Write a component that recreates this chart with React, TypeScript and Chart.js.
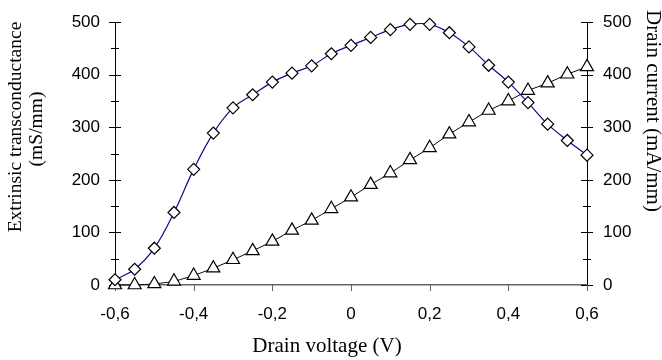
import { useEffect, useRef } from 'react';
import { Chart, registerables } from 'chart.js';

Chart.register(...registerables);

const voltages = [-0.6, -0.55, -0.5, -0.45, -0.4, -0.35, -0.3, -0.25, -0.2, -0.15, -0.1, -0.05, 0, 0.05, 0.1, 0.15, 0.2, 0.25, 0.3, 0.35, 0.4, 0.45, 0.5, 0.55, 0.6];
const transconductance = [10, 30, 70, 138, 220, 289, 337, 362, 386, 403, 417, 440, 456, 471, 486, 496, 496, 480, 453, 418, 386, 347, 306, 275, 247];
const drainCurrent = [0, 0, 2, 7, 18, 32, 48, 65, 83, 104, 123, 145, 167, 191, 213, 238, 261, 287, 310, 332, 350, 370, 384, 401, 415];

const xTitle = 'Drain voltage (V)';
const yLeftTitle = ['Extrinsic transconductance', '(mS/mm)'];
const yRightTitle = 'Drain current (mA/mm)';

const tickFont = { family: '"Liberation Sans", Arial, sans-serif', size: 17 };
const serif = '"Liberation Serif", "Times New Roman", serif';

const fmtX = (v: number) => {
  const r = Math.round(v * 10) / 10;
  if (r === 0) return '0';
  return r.toFixed(1).replace('.', ',');
};

const tickMarks = {
  id: 'tickMarks',
  beforeDatasetsDraw(chart: any) {
    const ctx = chart.ctx;
    ctx.save();
    ctx.lineWidth = 1;
    ['y', 'y1'].forEach((id) => {
      const s = chart.scales[id];
      const ax = id === 'y' ? chart.chartArea.left : chart.chartArea.right;
      ctx.strokeStyle = '#000';
      s.ticks.forEach((t: any) => {
        const py = Math.round(s.getPixelForValue(t.value)) + 0.5;
        const half = t.value % 100 === 0 ? 6 : 4;
        ctx.beginPath();
        ctx.moveTo(ax - half, py);
        ctx.lineTo(ax + half, py);
        ctx.stroke();
      });
    });
    const xs = chart.scales.x;
    const by = chart.chartArea.bottom;
    ctx.strokeStyle = '#666';
    xs.ticks.forEach((t: any) => {
      const px = Math.round(xs.getPixelForValue(t.value)) + 0.5;
      ctx.beginPath();
      ctx.moveTo(px, by);
      ctx.lineTo(px, by + 6);
      ctx.stroke();
    });
    ctx.restore();
  },
};

const axisTitles = {
  id: 'axisTitles',
  afterDraw(chart: any) {
    const ctx = chart.ctx;
    ctx.save();
    ctx.fillStyle = '#000';
    ctx.textAlign = 'center';
    ctx.textBaseline = 'alphabetic';
    ctx.font = '21px ' + serif;
    ctx.fillText(xTitle, 327, 352);

    ctx.textBaseline = 'middle';
    ctx.font = '19.5px ' + serif;
    ctx.save();
    ctx.translate(16, 127);
    ctx.rotate(-Math.PI / 2);
    ctx.fillText(yLeftTitle[0], 0, 0);
    ctx.restore();
    ctx.save();
    ctx.translate(37, 129);
    ctx.rotate(-Math.PI / 2);
    ctx.fillText(yLeftTitle[1], 0, 0);
    ctx.restore();

    ctx.font = '21px ' + serif;
    ctx.save();
    ctx.translate(653, 111);
    ctx.rotate(Math.PI / 2);
    ctx.fillText(yRightTitle, 0, 0);
    ctx.restore();
    ctx.restore();
  },
};

export default function App() {
  const ref = useRef<HTMLCanvasElement | null>(null);

  useEffect(() => {
    if (!ref.current) return;
    const chart = new Chart(ref.current, {
      type: 'line',
      data: {
        datasets: [
          {
            label: 'Extrinsic transconductance',
            data: voltages.map((v, i) => ({ x: v, y: transconductance[i] })),
            yAxisID: 'y',
            borderColor: '#0c0c8c',
            borderWidth: 1.2,
            tension: 0.4,
            pointStyle: 'rectRot',
            pointRadius: 6,
            pointBorderColor: '#000',
            pointBackgroundColor: '#fff',
            pointBorderWidth: 1.2,
            clip: false as any,
          },
          {
            label: 'Drain current',
            data: voltages.map((v, i) => ({ x: v, y: drainCurrent[i] })),
            yAxisID: 'y1',
            borderColor: '#000',
            borderWidth: 1,
            tension: 0.1,
            pointStyle: 'triangle',
            pointRadius: 7.5,
            pointBorderColor: '#000',
            pointBackgroundColor: '#fff',
            pointBorderWidth: 1.2,
            clip: false as any,
          },
        ],
      },
      options: {
        animation: false,
        responsive: false,
        devicePixelRatio: 1,
        layout: { padding: { top: 17, left: 0, right: 0, bottom: 0 } },
        plugins: { legend: { display: false }, tooltip: { enabled: false }, title: { display: false } },
        scales: {
          x: {
            type: 'linear',
            position: 'bottom',
            min: -0.6,
            max: 0.6,
            afterFit: (s: any) => { s.height = 75; },
            ticks: { stepSize: 0.2, autoSkip: false, maxRotation: 0, color: '#000', font: tickFont, padding: 13, callback: (v: any) => fmtX(Number(v)) },
            grid: { drawOnChartArea: false, color: 'rgba(0,0,0,0)', tickLength: 6 },
            border: { display: true, color: '#666', width: 1.5 },
          },
          y: {
            type: 'linear',
            position: 'left',
            min: 0,
            max: 500,
            afterFit: (s: any) => { s.width = 115; },
            ticks: { stepSize: 50, autoSkip: false, color: '#000', font: tickFont, padding: 11, callback: (v: any) => (Number(v) % 100 === 0 ? String(v) : '') },
            grid: { drawOnChartArea: false, color: 'rgba(0,0,0,0)', tickLength: 4 },
            border: { display: true, color: '#000', width: 1 },
          },
          y1: {
            type: 'linear',
            position: 'right',
            min: 0,
            max: 500,
            afterFit: (s: any) => { s.width = 75; },
            ticks: { stepSize: 50, autoSkip: false, color: '#000', font: tickFont, padding: 12, callback: (v: any) => (Number(v) % 100 === 0 ? String(v) : '') },
            grid: { drawOnChartArea: false, color: 'rgba(0,0,0,0)', tickLength: 4 },
            border: { display: true, color: '#000', width: 1 },
          },
        },
      },
      plugins: [tickMarks, axisTitles],
    });
    return () => chart.destroy();
  }, []);

  return (
    <div style={{ position: 'absolute', left: 0, top: 0, width: 662, height: 360 }}>
      <canvas ref={ref} width={662} height={360} style={{ display: 'block' }} />
    </div>
  );
}
